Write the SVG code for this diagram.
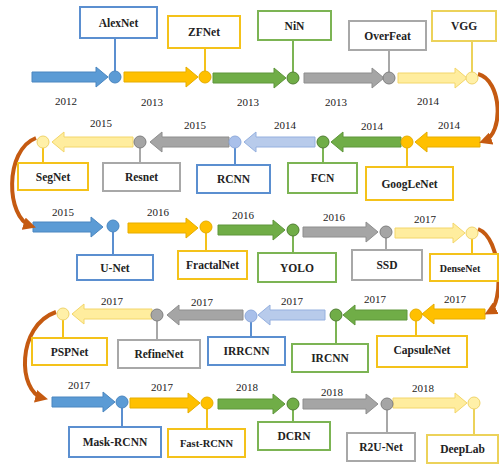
<svg xmlns="http://www.w3.org/2000/svg" width="499" height="464" viewBox="0 0 499 464">
<defs>
<marker id="bh" viewBox="0 0 10 10" refX="6" refY="5" markerWidth="3.2" markerHeight="3.2" orient="auto" markerUnits="strokeWidth">
<path d="M0,0 L10,5 L0,10 z" fill="#c55a11"/>
</marker>
</defs>
<style>
text{font-family:"Liberation Serif","DejaVu Serif",serif;text-anchor:middle;fill:#222}
.lb{font-size:11.5px;font-weight:bold}
.yr{font-size:11px}
.box{fill:#fff;stroke-width:2}
.stem{stroke-width:2;fill:none}
.ab{fill:#5b9bd5;stroke:#4a86c0;stroke-width:1}
.ay{fill:#ffc000;stroke:#e6ad00;stroke-width:1}
.ag{fill:#70ad47;stroke:#5e963a;stroke-width:1}
.ar{fill:#a5a5a5;stroke:#8e8e8e;stroke-width:1}
.al{fill:#ffed9e;stroke:#f3d66a;stroke-width:1}
.ac{fill:#b8cbeb;stroke:#95b0df;stroke-width:1}
.cb{fill:#5b9bd5;stroke:#4a86c0}
.cy{fill:#ffc000;stroke:#e6ad00}
.cg{fill:#70ad47;stroke:#507e32}
.cr{fill:#a5a5a5;stroke:#7f7f7f}
.cl{fill:#fff0a8;stroke:#efd36a}
.cc{fill:#a9c0ea;stroke:#8eaadc}
.sb{stroke:#5b8fd0}
.sy{stroke:#f4c21a}
.sg{stroke:#7cb454}
.sr{stroke:#a8a8a8}
.sl{stroke:#ecd25a}
.curve{fill:none;stroke:#c55a11;stroke-width:4;marker-end:url(#bh)}
</style>

<g id="connectors">
<!-- row 1 -->
<polygon class="ab" points="32,72 96,72 96,67 108,77 96,87 96,82 32,82"/>
<polygon class="ay" points="124,72 186,72 186,67 198,77 186,87 186,82 124,82"/>
<polygon class="ag" points="213,73 274,73 274,68 286,78 274,88 274,83 213,83"/>
<polygon class="ar" points="304,73 372,73 372,68 384,78 372,88 372,83 304,83"/>
<polygon class="al" points="398,73 455,73 455,68 467,78 455,88 455,83 398,83"/>
<!-- row 2 -->
<polygon class="al" points="52,142 64,132 64,137 133,137 133,147 64,147 64,152"/>
<polygon class="ar" points="150,142 162,132 162,137 229,137 229,147 162,147 162,152"/>
<polygon class="ac" points="244,142 256,132 256,137 315,137 315,147 256,147 256,152"/>
<polygon class="ag" points="331,142 343,132 343,137 401,137 401,147 343,147 343,152"/>
<polygon class="ay" points="415,142 427,132 427,137 480,137 480,147 427,147 427,152"/>
<!-- row 3 -->
<polygon class="ab" points="33,222 91,222 91,217 103,227 91,237 91,232 33,232"/>
<polygon class="ay" points="128,223 186,223 186,218 198,228 186,238 186,233 128,233"/>
<polygon class="ag" points="218,225 273,225 273,220 285,230 273,240 273,235 218,235"/>
<polygon class="ar" points="303,227 366,227 366,222 378,232 366,242 366,237 303,237"/>
<polygon class="al" points="395,228 453,228 453,223 465,233 453,243 453,238 395,238"/>
<!-- row 4 -->
<polygon class="al" points="72,314 84,304 84,309 152,309 152,319 84,319 84,324"/>
<polygon class="ar" points="167,315 179,305 179,310 243,310 243,320 179,320 179,325"/>
<polygon class="ac" points="258,315 270,305 270,310 325,310 325,320 270,320 270,325"/>
<polygon class="ag" points="343,315 355,305 355,310 407,310 407,320 355,320 355,325"/>
<polygon class="ay" points="422,314 434,304 434,309 485,309 485,319 434,319 434,324"/>
<!-- row 5 -->
<polygon class="ab" points="52,397 103,397 103,392 115,402 103,412 103,407 52,407"/>
<polygon class="ay" points="130,398 188,398 188,393 200,403 188,413 188,408 130,408"/>
<polygon class="ag" points="218,399 273,399 273,394 285,404 273,414 273,409 218,409"/>
<polygon class="ar" points="303,399 366,399 366,394 378,404 366,414 366,409 303,409"/>
<polygon class="al" points="393,398 455,398 455,393 467,403 455,413 455,408 393,408"/>
<!-- turn curves -->
<path class="curve" d="M478,74 C502,80 504,134 484,141"/>
<path class="curve" d="M36,138 C4,150 6,218 31,226"/>
<path class="curve" d="M478,229 C502,238 504,304 489,312"/>
<path class="curve" d="M56,312 C16,326 18,392 43,398"/>
<!-- years -->
<text class="yr" x="66" y="105">2012</text>
<text class="yr" x="152" y="106">2013</text>
<text class="yr" x="248" y="106">2013</text>
<text class="yr" x="336" y="106">2013</text>
<text class="yr" x="428" y="105">2014</text>
<text class="yr" x="101" y="127">2015</text>
<text class="yr" x="195" y="129">2015</text>
<text class="yr" x="285" y="129">2014</text>
<text class="yr" x="372" y="130">2014</text>
<text class="yr" x="449" y="129">2014</text>
<text class="yr" x="63" y="216">2015</text>
<text class="yr" x="158" y="216">2016</text>
<text class="yr" x="243" y="219">2016</text>
<text class="yr" x="334" y="221">2016</text>
<text class="yr" x="425" y="223">2017</text>
<text class="yr" x="112" y="305">2017</text>
<text class="yr" x="202" y="306">2017</text>
<text class="yr" x="292" y="305">2017</text>
<text class="yr" x="375" y="303">2017</text>
<text class="yr" x="455" y="303">2017</text>
<text class="yr" x="79" y="389">2017</text>
<text class="yr" x="162" y="391">2017</text>
<text class="yr" x="247" y="391">2018</text>
<text class="yr" x="332" y="396">2018</text>
<text class="yr" x="423" y="392">2018</text>
</g>

<g id="AlexNet"><line class="stem sb" x1="115" y1="38" x2="115" y2="71"/><circle class="cb" cx="115" cy="77" r="6"/><rect class="box sb" x="80" y="7" width="77" height="31"/><text class="lb" x="118.5" y="27">AlexNet</text></g>
<g id="ZFNet"><line class="stem sy" x1="205" y1="48" x2="205" y2="71"/><circle class="cy" cx="205" cy="77" r="6"/><rect class="box sy" x="168" y="16" width="72" height="32"/><text class="lb" x="204" y="36">ZFNet</text></g>
<g id="NiN"><line class="stem sg" x1="293" y1="40" x2="293" y2="72"/><circle class="cg" cx="293" cy="78" r="6"/><rect class="box sg" x="258" y="11" width="73" height="29"/><text class="lb" x="294.5" y="30">NiN</text></g>
<g id="OverFeat"><line class="stem sr" x1="389" y1="50" x2="389" y2="72"/><circle class="cr" cx="389" cy="78" r="6"/><rect class="box sr" x="349" y="21" width="77" height="29"/><text class="lb" x="387.5" y="40">OverFeat</text></g>
<g id="VGG"><line class="stem sl" x1="472" y1="41" x2="472" y2="72"/><circle class="cl" cx="472" cy="78" r="6"/><rect class="box sl" x="432" y="11" width="64" height="30"/><text class="lb" x="464" y="30">VGG</text></g>

<g id="SegNet"><line class="stem sy" x1="43" y1="148" x2="43" y2="163"/><circle class="cl" cx="43" cy="142" r="6"/><rect class="box sy" x="18" y="163" width="70" height="27"/><text class="lb" x="53" y="181">SegNet</text></g>
<g id="Resnet"><line class="stem sr" x1="140" y1="148" x2="140" y2="163"/><circle class="cr" cx="140" cy="142" r="6"/><rect class="box sr" x="103" y="163" width="77" height="28"/><text class="lb" x="141.5" y="181">Resnet</text></g>
<g id="RCNN"><line class="stem sb" x1="235" y1="148" x2="235" y2="165"/><circle class="cc" cx="235" cy="142" r="6"/><rect class="box sb" x="197" y="165" width="73" height="28"/><text class="lb" x="233.5" y="183">RCNN</text></g>
<g id="FCN"><line class="stem sg" x1="323" y1="148" x2="323" y2="163"/><circle class="cg" cx="323" cy="142" r="6"/><rect class="box sg" x="288" y="163" width="69" height="30"/><text class="lb" x="322.5" y="182">FCN</text></g>
<g id="GoogLeNet"><line class="stem sy" x1="407" y1="148" x2="407" y2="167"/><circle class="cy" cx="407" cy="142" r="6"/><rect class="box sy" x="366" y="167" width="87" height="33"/><text class="lb" x="409.5" y="188">GoogLeNet</text></g>

<g id="U-Net"><line class="stem sb" x1="113" y1="232" x2="113" y2="255"/><circle class="cb" cx="113" cy="226" r="6"/><rect class="box sb" x="77" y="255" width="76" height="25"/><text class="lb" x="115" y="272">U-Net</text></g>
<g id="FractalNet"><line class="stem sy" x1="206" y1="233" x2="206" y2="251"/><circle class="cy" cx="206" cy="227" r="6"/><rect class="box sy" x="178" y="251" width="69" height="28"/><text class="lb" x="212.5" y="269">FractalNet</text></g>
<g id="YOLO"><line class="stem sg" x1="293" y1="236" x2="293" y2="253"/><circle class="cg" cx="293" cy="230" r="6"/><rect class="box sg" x="258" y="253" width="78" height="29"/><text class="lb" x="297" y="272">YOLO</text></g>
<g id="SSD"><line class="stem sr" x1="386" y1="238" x2="386" y2="250"/><circle class="cr" cx="386" cy="232" r="6"/><rect class="box sr" x="352" y="250" width="70" height="30"/><text class="lb" x="387" y="269">SSD</text></g>
<g id="DenseNet"><line class="stem sy" x1="472" y1="239" x2="472" y2="254"/><circle class="cl" cx="472" cy="233" r="6"/><rect class="box sy" x="430" y="254" width="68" height="27"/><text class="lb" x="460" y="272" style="font-size:10px">DenseNet</text></g>

<g id="PSPNet"><line class="stem sy" x1="63" y1="320" x2="63" y2="338"/><circle class="cl" cx="63" cy="314" r="6"/><rect class="box sy" x="32" y="338" width="75" height="27"/><text class="lb" x="69.5" y="356">PSPNet</text></g>
<g id="RefineNet"><line class="stem sr" x1="157" y1="321" x2="157" y2="340"/><circle class="cr" cx="157" cy="315" r="6"/><rect class="box sr" x="118" y="340" width="82" height="28"/><text class="lb" x="159" y="358">RefineNet</text></g>
<g id="IRRCNN"><line class="stem sb" x1="251" y1="322" x2="251" y2="337"/><circle class="cc" cx="251" cy="316" r="6"/><rect class="box sb" x="208" y="337" width="77" height="28"/><text class="lb" x="246.5" y="355">IRRCNN</text></g>
<g id="IRCNN"><line class="stem sg" x1="336" y1="321" x2="336" y2="344"/><circle class="cg" cx="336" cy="315" r="6"/><rect class="box sg" x="292" y="344" width="76" height="28"/><text class="lb" x="330" y="362">IRCNN</text></g>
<g id="CapsuleNet"><line class="stem sy" x1="416" y1="321" x2="416" y2="336"/><circle class="cy" cx="416" cy="315" r="6"/><rect class="box sy" x="377" y="336" width="90" height="31"/><text class="lb" x="422" y="354">CapsuleNet</text></g>

<g id="Mask-RCNN"><line class="stem sb" x1="122" y1="408" x2="122" y2="427"/><circle class="cb" cx="122" cy="402" r="6"/><rect class="box sb" x="69" y="427" width="92" height="30"/><text class="lb" x="115" y="446">Mask-RCNN</text></g>
<g id="Fast-RCNN"><line class="stem sy" x1="207" y1="409" x2="207" y2="429"/><circle class="cy" cx="207" cy="403" r="6"/><rect class="box sy" x="168" y="429" width="77" height="28"/><text class="lb" x="206.5" y="447" style="font-size:10.5px">Fast-RCNN</text></g>
<g id="DCRN"><line class="stem sg" x1="293" y1="410" x2="293" y2="422"/><circle class="cg" cx="293" cy="404" r="6"/><rect class="box sg" x="258" y="422" width="72" height="28"/><text class="lb" x="294" y="440">DCRN</text></g>
<g id="R2U-Net"><line class="stem sr" x1="387" y1="410" x2="387" y2="433"/><circle class="cr" cx="387" cy="404" r="6"/><rect class="box sr" x="347" y="433" width="68" height="28"/><text class="lb" x="381" y="451">R2U-Net</text></g>
<g id="DeepLab"><line class="stem sl" x1="474" y1="409" x2="474" y2="435"/><circle class="cl" cx="474" cy="403" r="6"/><rect class="box sl" x="427" y="435" width="71" height="28"/><text class="lb" x="462.5" y="453">DeepLab</text></g>
</svg>
